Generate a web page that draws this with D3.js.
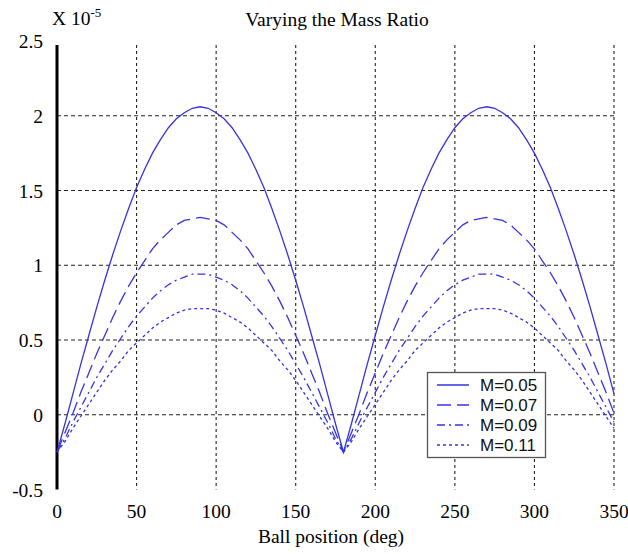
<!DOCTYPE html>
<html><head><meta charset="utf-8">
<script src="https://cdn.jsdelivr.net/npm/d3@7"></script>
<style>body{margin:0;background:#fff}svg{display:block}</style>
</head><body>
<svg id="c" width="628" height="554"></svg>
<script>
const xs = [0,5,10,15,20,25,30,35,40,45,50,55,60,65,70,75,80,85,90,95,100,105,110,115,120,125,130,135,140,145,150,155,160,165,170,175,180,185,190,195,200,205,210,215,220,225,230,235,240,245,250,255,260,265,270,275,280,285,290,295,300,305,310,315,320,325,330,335,340,345,350];
const m005 = [-0.25,-0.06,0.14,0.34,0.53,0.72,0.90,1.07,1.23,1.38,1.52,1.64,1.75,1.84,1.92,1.98,2.02,2.05,2.06,
  2.05,2.02,1.98,1.92,1.84,1.75,1.64,1.52,1.38,1.23,1.07,0.90,0.72,0.53,0.34,0.14,-0.06,-0.25,
  -0.06,0.14,0.34,0.53,0.72,0.90,1.07,1.23,1.38,1.52,1.64,1.75,1.84,1.92,1.98,2.02,2.05,2.06,
  2.05,2.02,1.98,1.92,1.84,1.75,1.64,1.52,1.38,1.23,1.07,0.90,0.72,0.53,0.34,0.14];
const m007 = [-0.25,-0.12,0.01,0.15,0.28,0.41,0.53,0.65,0.76,0.86,0.95,1.03,1.11,1.17,1.22,1.27,1.30,1.31,1.32,
  1.31,1.30,1.27,1.22,1.17,1.11,1.03,0.95,0.86,0.76,0.65,0.53,0.41,0.28,0.15,0.01,-0.12,-0.25,
  -0.12,0.01,0.15,0.28,0.41,0.53,0.65,0.76,0.86,0.95,1.03,1.11,1.17,1.22,1.27,1.30,1.31,1.32,
  1.31,1.30,1.27,1.22,1.17,1.11,1.03,0.95,0.86,0.76,0.65,0.53,0.41,0.28,0.15,0.01];
const m009 = [-0.25,-0.16,-0.05,0.05,0.15,0.25,0.34,0.43,0.51,0.59,0.66,0.72,0.78,0.83,0.87,0.90,0.92,0.94,0.94,
  0.94,0.92,0.90,0.87,0.83,0.78,0.72,0.66,0.59,0.51,0.43,0.34,0.25,0.15,0.05,-0.05,-0.16,-0.25,
  -0.16,-0.05,0.05,0.15,0.25,0.34,0.43,0.51,0.59,0.66,0.72,0.78,0.83,0.87,0.90,0.92,0.94,0.94,
  0.94,0.92,0.90,0.87,0.83,0.78,0.72,0.66,0.59,0.51,0.43,0.34,0.25,0.15,0.05,-0.05];
const m011 = [-0.25,-0.18,-0.09,-0.01,0.07,0.15,0.23,0.30,0.36,0.43,0.48,0.53,0.58,0.62,0.65,0.68,0.70,0.71,0.71,
  0.71,0.70,0.68,0.65,0.62,0.58,0.53,0.48,0.43,0.36,0.30,0.23,0.15,0.07,-0.01,-0.09,-0.18,-0.25,
  -0.18,-0.09,-0.01,0.07,0.15,0.23,0.30,0.36,0.43,0.48,0.53,0.58,0.62,0.65,0.68,0.70,0.71,0.71,
  0.71,0.70,0.68,0.65,0.62,0.58,0.53,0.48,0.43,0.36,0.30,0.23,0.15,0.07,-0.01,-0.09];
const seriesNames = ["M=0.05","M=0.07","M=0.09","M=0.11"];
const xTicks = [0,50,100,150,200,250,300,350];
const yTicks = [-0.5,0,0.5,1,1.5,2,2.5];
const yGrid = [0,0.5,1,1.5,2];

const svg = d3.select("#c");
const x = d3.scaleLinear().domain([0,350]).range([57,614]);
const y = d3.scaleLinear().domain([-0.5,2.5]).range([489.5,41]);
const serif = "'Liberation Serif','Times New Roman',serif";
const sans = "'Liberation Sans',Arial,sans-serif";
const blue = "#3434e0";
const dashes = [null,"14,6","8,4,2,4","3,3"];
const fs = 19.5;

// grid
svg.append("g").selectAll("line").data(yGrid).join("line")
  .attr("x1",x(0)).attr("x2",x(350)).attr("y1",d=>y(d)).attr("y2",d=>y(d))
  .attr("stroke","#222").attr("stroke-width",1.1).attr("stroke-dasharray","4,3");
svg.append("g").selectAll("line").data(xTicks.filter(d=>d>0)).join("line")
  .attr("x1",d=>x(d)).attr("x2",d=>x(d)).attr("y1",45).attr("y2",y(-0.5))
  .attr("stroke","#222").attr("stroke-width",1.1).attr("stroke-dasharray","3,3");

// axis line
svg.append("line").attr("x1",x(0)).attr("x2",x(0)).attr("y1",45).attr("y2",y(-0.5))
  .attr("stroke","#000").attr("stroke-width",3);

// tick labels
svg.append("g").selectAll("text").data(yTicks).join("text")
  .attr("x",43).attr("y",d=>y(d)+7).attr("text-anchor","end")
  .attr("font-family",serif).attr("font-size",fs).text(d=>d);
svg.append("g").selectAll("text").data(xTicks).join("text")
  .attr("x",d=>x(d)).attr("y",518).attr("text-anchor","middle")
  .attr("font-family",serif).attr("font-size",fs).text(d=>d);

// titles
svg.append("text").attr("x",337).attr("y",26).attr("text-anchor","middle")
  .attr("font-family",serif).attr("font-size",fs).text("Varying the Mass Ratio");
svg.append("text").attr("x",331).attr("y",543).attr("text-anchor","middle")
  .attr("font-family",serif).attr("font-size",fs).text("Ball position (deg)");
const ex = svg.append("text").attr("x",52).attr("y",25).attr("font-family",serif).attr("font-size",fs);
ex.append("tspan").text("X 10");
ex.append("tspan").attr("dy",-8).attr("font-size",13).text("-5");

// lines
const all = [m005,m007,m009,m011];
const line = d3.line().x((d,i)=>x(xs[i])).y(d=>y(d));
all.forEach((s,k)=>{
  svg.append("path").datum(s).attr("d",line).attr("fill","none")
    .attr("stroke",blue).attr("stroke-width",1.3)
    .attr("stroke-dasharray",dashes[k]);
});

// legend
const lg = svg.append("g");
lg.append("rect").attr("x",427.5).attr("y",372.5).attr("width",118).attr("height",85)
  .attr("fill","#fff").attr("stroke","#555").attr("stroke-width",1.3);
seriesNames.forEach((n,k)=>{
  const yy = 385 + k*20;
  lg.append("line").attr("x1",437).attr("x2",469).attr("y1",yy).attr("y2",yy)
    .attr("stroke",blue).attr("stroke-width",1.5).attr("stroke-dasharray",dashes[k]);
  lg.append("text").attr("x",480).attr("y",yy+6).attr("font-family",sans)
    .attr("font-size",17).attr("fill","#111").text(n);
});
</script>
</body></html>
